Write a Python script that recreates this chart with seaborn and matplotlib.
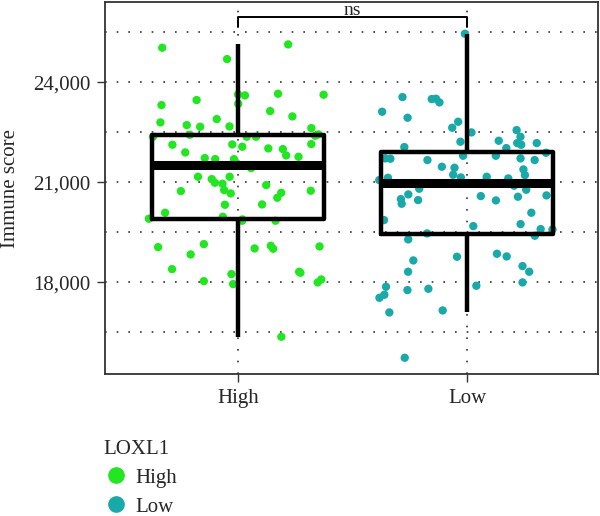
import numpy as np
import pandas as pd
import seaborn as sns
from matplotlib import pyplot as plt
from matplotlib.lines import Line2D

groups = ['High', 'Low']
colors = ['#22E622', '#1AA9A9']

high_scores = [25030, 25130, 24690, 23650, 23620, 23600, 23350, 23310, 23460, 23630,
               23130, 22970, 22890, 22790, 22660, 22620, 22710, 22670, 22390, 22360,
               22360, 22430, 22420, 22360, 22140, 22120, 22060, 21990, 22010, 22130,
               21890, 21570, 21690, 21690, 21510, 21760, 21800, 21720, 21420, 21160,
               21160, 21090, 20910, 20980, 20660, 20530, 20950, 20740, 20730, 20680,
               20760, 20320, 20330, 19840, 19960, 19900, 20080, 19840, 19880, 19000,
               19070, 19090, 19050, 19140, 19010, 18830, 18080, 17990, 18280, 17940,
               18310, 18390, 18030, 18240, 16360]
low_scores = [25450, 23550, 23390, 23500, 23490, 22930, 22630, 22810, 22560, 22360,
              22490, 22210, 22170, 22170, 22240, 22120, 21880, 21710, 21660, 21660,
              21790, 21710, 22020, 22050, 21790, 21700, 21460, 21380, 21430, 21010,
              21110, 21210, 20890, 21060, 21220, 21140, 21130, 20960, 21160, 20770,
              20600, 20490, 20800, 20450, 20350, 20460, 20580, 20630, 20560, 20080,
              19860, 19680, 19740, 19580, 19460, 19280, 19390, 19590, 18650, 18760,
              18770, 18310, 18310, 18850, 18480, 17890, 17760, 17620, 17800, 17990,
              17860, 17530, 17150, 17090, 15730, 23110]

y_ticks = [18000, 21000, 24000]
y_tick_labels = ['18,000', '21,000', '24,000']
sig_label = 'ns'

df = pd.DataFrame({
    'LOXL1': ['High'] * len(high_scores) + ['Low'] * len(low_scores),
    'score': high_scores + low_scores,
})

sns.set_style('white')
plt.rcParams['font.family'] = ['Liberation Serif', 'DejaVu Serif']
fs = 15

fig = plt.figure(figsize=(6, 5.16), dpi=100)
ax = fig.add_axes([0.175, 0.275, 0.822, 0.721])

np.random.seed(7)
sns.stripplot(data=df, x='LOXL1', y='score', hue='LOXL1', order=groups,
              palette=dict(zip(groups, colors)), jitter=0.39, size=6,
              legend=False, ax=ax, zorder=1)
sns.boxplot(data=df, x='LOXL1', y='score', order=groups, fill=False,
            color='black', linewidth=3.2, width=0.75, showfliers=False,
            showcaps=False, medianprops={'linewidth': 6.5}, ax=ax, zorder=3)

# dotted grid
for v in np.arange(16500, 26000, 1500):
    ax.axhline(v, color='#333333', lw=1.2, ls=(0, (1, 6)), zorder=0)
for i in range(len(groups)):
    ax.axvline(i, color='#333333', lw=1.2, ls=(0, (1, 6)), zorder=0)

ax.set_ylim(15240, 26400)
ax.set_xlim(-0.58, 1.57)
ax.set_yticks(y_ticks)
ax.set_yticklabels(y_tick_labels, fontsize=fs)
ax.set_xticks(range(len(groups)))
ax.set_xticklabels(groups, fontsize=fs)
ax.set_xlabel('')
ax.set_ylabel('Immune score', fontsize=fs)
ax.yaxis.set_label_coords(-0.172, 0.5)
ax.tick_params(axis='both', length=5.5, width=1, color='#333333', direction='out',
               left=True, bottom=True, pad=5)
for s in ax.spines.values():
    s.set_color('#333333')
    s.set_linewidth(1.3)

# significance bracket
ax.plot([0, 0, 1, 1], [25650, 25950, 25950, 25650], color='black', lw=1.4, zorder=4)
ax.text(0.5, 26010, sig_label, ha='center', va='baseline', fontsize=14)

handles = [Line2D([], [], marker='o', color='none', markerfacecolor=c,
                  markeredgecolor=c, markersize=11) for c in colors]
leg = fig.legend(handles, groups, title='LOXL1', loc='upper left',
                 bbox_to_anchor=(0.152, 0.172), frameon=False, fontsize=fs,
                 title_fontsize=fs, handletextpad=0.3, labelspacing=0.45,
                 handlelength=1.2, borderaxespad=0.2)
leg._legend_box.align = 'left'

fig.savefig('out.png', dpi=100)
